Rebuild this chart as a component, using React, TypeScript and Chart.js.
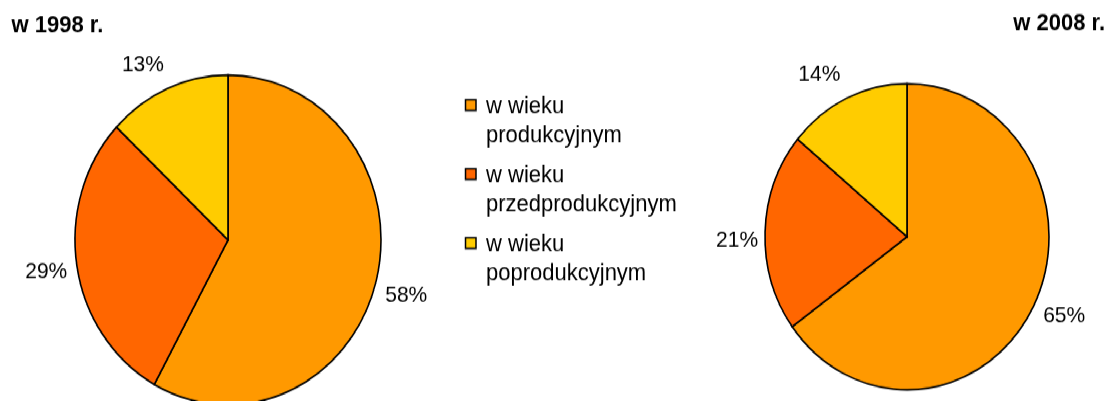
import React, { useEffect, useRef } from "react";
import { Chart, registerables } from "chart.js";

Chart.register(...registerables);

// ---- data ----
const categories = ["w wieku produkcyjnym", "w wieku przedprodukcyjnym", "w wieku poprodukcyjnym"];
const legendLines = [
  ["w wieku", "produkcyjnym"],
  ["w wieku", "przedprodukcyjnym"],
  ["w wieku", "poprodukcyjnym"],
];
const values1998 = [58, 29, 13];
const values2008 = [65, 21, 14];
const titles = ["w 1998 r.", "w 2008 r."];
const colors = ["#FF9900", "#FF6600", "#FFCC00"];

// ---- layout / style ----
const W = 1110;
const S = 1.078; // vertical stretch of the reference
const H0 = 372; // unstretched height
const FONT = "'Liberation Sans', Arial, sans-serif";
// small nudges of the percentage labels (px), per slice
const nudge1998 = [[0, 4.6], [0, -0.9], [-12, 4.6]];
const nudge2008 = [[3, -6.5], [3, 7.4], [-14, 4.6]];

function labelPlugin(id: string, nudge: number[][]) {
  return {
    id,
    afterDatasetsDraw(chart: any) {
      const ctx = chart.ctx;
      const meta = chart.getDatasetMeta(0);
      const vals = chart.data.datasets[0].data as number[];
      ctx.save();
      ctx.font = `21px ${FONT}`;
      ctx.fillStyle = "#000";
      ctx.textAlign = "center";
      ctx.textBaseline = "alphabetic";
      meta.data.forEach((arc: any, i: number) => {
        const p = arc.getProps(["x", "y", "startAngle", "endAngle", "outerRadius"], true);
        const mid = (p.startAngle + p.endAngle) / 2;
        const d = p.outerRadius + 31;
        const x = p.x + Math.cos(mid) * d + nudge[i][0];
        const y = p.y + Math.sin(mid) * d + nudge[i][1];
        ctx.fillText(`${vals[i]}%`, x, y + 7.5);
      });
      ctx.restore();
    },
  };
}

function titlePlugin(text: string, x: number, y: number, align: CanvasTextAlign) {
  return {
    id: "titleText",
    afterDraw(chart: any) {
      const ctx = chart.ctx;
      ctx.save();
      ctx.font = `bold 22px ${FONT}`;
      ctx.fillStyle = "#000";
      ctx.textAlign = align;
      ctx.textBaseline = "alphabetic";
      ctx.fillText(text, x, y);
      ctx.restore();
    },
  };
}

const legendPlugin = {
  id: "sideLegend",
  afterDraw(chart: any) {
    const ctx = chart.ctx;
    const bg = chart.data.datasets[0].backgroundColor as string[];
    ctx.save();
    ctx.font = `22px ${FONT}`;
    ctx.textAlign = "left";
    ctx.textBaseline = "alphabetic";
    const firstBase = 105;
    const itemGap = 64;
    const lineGap = 26.5;
    legendLines.forEach((lines, i) => {
      const base = firstBase + i * itemGap;
      ctx.fillStyle = bg[i];
      ctx.fillRect(465.5, base - 12.5, 10.5, 10);
      ctx.strokeStyle = "#000";
      ctx.lineWidth = 1.5;
      ctx.strokeRect(465.5, base - 12.5, 10.5, 10);
      ctx.fillStyle = "#000";
      lines.forEach((t, j) => ctx.fillText(t, 486, base + j * lineGap));
    });
    ctx.restore();
  },
};

function PieCanvas(props: {
  values: number[];
  radius: number;
  padding: { left: number; right: number; top: number; bottom: number };
  plugins: any[];
}) {
  const ref = useRef<HTMLCanvasElement | null>(null);
  useEffect(() => {
    if (!ref.current) return;
    const chart = new Chart(ref.current, {
      type: "pie",
      data: {
        labels: categories,
        datasets: [
          {
            data: props.values,
            backgroundColor: colors,
            borderColor: "#000",
            borderWidth: 1.6,
            borderJoinStyle: "miter",
            radius: props.radius,
          } as any,
        ],
      },
      options: {
        responsive: false,
        animation: false,
        events: [],
        layout: { padding: props.padding },
        plugins: { legend: { display: false }, tooltip: { enabled: false }, title: { display: false } },
      },
      plugins: props.plugins,
    });
    return () => chart.destroy();
  }, []);
  return (
    <canvas
      ref={ref}
      width={W}
      height={H0}
      style={{ position: "absolute", left: 0, top: 0, width: W, height: H0 }}
    />
  );
}

export default function App() {
  return (
    <div
      style={{
        position: "fixed",
        left: 0,
        top: 0,
        width: W,
        height: H0,
        background: "#fff",
        transform: `scaleY(${S})`,
        transformOrigin: "0 0",
      }}
    >
      <PieCanvas
        values={values1998}
        radius={153}
        padding={{ left: 0, right: W - 2 * 228, top: 2 * 222.6 - H0, bottom: 0 }}
        plugins={[labelPlugin("pct1998", nudge1998), titlePlugin(titles[0], 11.5, 30, "left"), legendPlugin]}
      />
      <PieCanvas
        values={values2008}
        radius={142}
        padding={{ left: 2 * 907 - W, right: 0, top: 2 * 219.6 - H0, bottom: 0 }}
        plugins={[labelPlugin("pct2008", nudge2008), titlePlugin(titles[1], 1105, 27.8, "right")]}
      />
    </div>
  );
}
